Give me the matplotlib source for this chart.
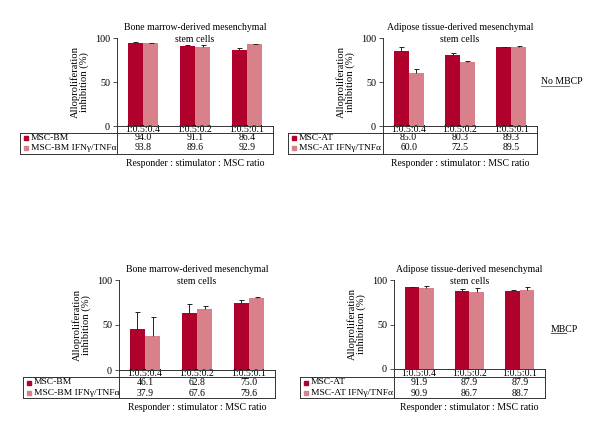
import matplotlib

matplotlib.use("Agg")

import matplotlib.pyplot as plt
import numpy as np
from matplotlib.lines import Line2D
from matplotlib.transforms import blended_transform_factory

plt.rcParams["font.family"] = ["Liberation Serif", "DejaVu Serif"]

W, H = 600, 433
DARK = "#B0002C"
LIGHT = "#D9818A"

ratios = ["1:0.5:0.4", "1:0.5:0.2", "1:0.5:0.1"]

# No MBCP
bm_vals = [94.0, 91.1, 86.4]
bm_err = [2.0, 1.0, 2.0]
bm_ifn_vals = [93.8, 89.6, 92.9]
bm_ifn_err = [0.8, 3.0, 0.8]

at_vals = [85.0, 80.3, 89.3]
at_err = [4.5, 2.5, 0.5]
at_ifn_vals = [60.0, 72.5, 89.5]
at_ifn_err = [4.5, 1.0, 1.0]

# MBCP
bm_mbcp_vals = [46.1, 62.8, 75.0]
bm_mbcp_err = [18.5, 10.0, 3.0]
bm_ifn_mbcp_vals = [37.9, 67.6, 79.6]
bm_ifn_mbcp_err = [20.5, 3.0, 2.0]

at_mbcp_vals = [91.9, 87.9, 87.9]
at_mbcp_err = [0.6, 2.0, 1.2]
at_ifn_mbcp_vals = [90.9, 86.7, 88.7]
at_ifn_mbcp_err = [2.5, 4.0, 3.0]

BM_TITLE = "Bone marrow-derived mesenchymal\nstem cells"
AT_TITLE = "Adipose tissue-derived mesenchymal\nstem cells"
YLABEL = "Alloproliferation\ninhibition (%)"
XLABEL = "Responder : stimulator : MSC ratio"

FS = 7


def fx(x):
    return x / W


def fy(y):
    return 1 - y / H


def hline(fig, x0, x1, y, color="#333333"):
    fig.add_artist(Line2D([fx(x0), fx(x1)], [fy(y), fy(y)], color=color, lw=0.7))


def vline(fig, x, y0, y1):
    fig.add_artist(Line2D([fx(x), fx(x)], [fy(y0), fy(y1)], color="#333333", lw=0.7))


def draw_panel(fig, box, table, title, names, v1, e1, v2, e2):
    # box: axes left, right, top, bottom in pixels
    left, right, top, bottom = box
    ax = fig.add_axes([fx(left), fy(bottom), (right - left) / W, (bottom - top) / H])
    x = np.arange(len(ratios))
    w = 0.29
    ax.bar(x - w / 2, v1, w, color=DARK, zorder=2)
    ax.bar(x + w / 2, v2, w, color=LIGHT, zorder=2)
    for xs, vals, errs in [(x - w / 2, v1, e1), (x + w / 2, v2, e2)]:
        eb = ax.errorbar(xs, vals, yerr=[np.zeros(len(errs)), errs], fmt="none",
                         ecolor="#222222", elinewidth=0.7, capsize=1.8, capthick=0.7, zorder=3)
        eb[1][0].set_visible(False)
    ax.set_xlim(-0.5, 2.5)
    ax.set_ylim(0, 100)
    ax.set_yticks([0, 50, 100])
    ax.tick_params(axis="y", length=3, width=0.6, labelsize=FS + 0.3, pad=2, color="#333333")
    ax.set_xticks([])
    for s in ["top", "right", "bottom"]:
        ax.spines[s].set_visible(False)
    ax.spines["left"].set_linewidth(0.7)
    ax.spines["left"].set_color("#333333")
    ax.set_ylabel(YLABEL, fontsize=FS + 0.6, labelpad=4, linespacing=1.0)
    ax.set_title(title, fontsize=FS, y=1.0, pad=-3, linespacing=1.45)

    # table under the axes
    tleft, hdr_y, line_y, r1_y, r2_y, tbot = table
    tr = blended_transform_factory(ax.transData, fig.transFigure)
    hline(fig, left, right, bottom)
    hline(fig, tleft, right, line_y)
    hline(fig, tleft, right, tbot)
    vline(fig, tleft, line_y, tbot)
    vline(fig, left, bottom, tbot)
    vline(fig, right, bottom, tbot)
    for i, r in enumerate(ratios):
        ax.text(x[i], fy(hdr_y), r, transform=tr, ha="center", va="center", fontsize=FS)
        ax.text(x[i], fy(r1_y), f"{v1[i]:.1f}", transform=tr, ha="center", va="center", fontsize=FS)
        ax.text(x[i], fy(r2_y), f"{v2[i]:.1f}", transform=tr, ha="center", va="center", fontsize=FS)
    for name, yy, c in [(names[0], r1_y, DARK), (names[1], r2_y, LIGHT)]:
        fig.add_artist(Line2D([fx(tleft + 6)], [fy(yy)], marker="s", ms=3, color=c, lw=0))
        fig.text(fx(tleft + 11), fy(yy), name, ha="left", va="center", fontsize=FS - 0.2)
    fig.text(fx((left + right) / 2), fy(tbot + 9), XLABEL, ha="center", va="center", fontsize=FS)
    return ax


fig = plt.figure(figsize=(W / 100, H / 100), dpi=100)

draw_panel(fig, (117, 273, 38, 126), (20, 130, 133, 138, 147.5, 154), BM_TITLE,
           ["MSC-BM", "MSC-BM IFNγ/TNFα"], bm_vals, bm_err, bm_ifn_vals, bm_ifn_err)
draw_panel(fig, (383, 537, 38, 126), (288, 130, 133, 138, 147.5, 154), AT_TITLE,
           ["MSC-AT", "MSC-AT IFNγ/TNFα"], at_vals, at_err, at_ifn_vals, at_ifn_err)
draw_panel(fig, (119, 275, 280, 370), (23, 374, 377, 382.5, 393, 398), BM_TITLE,
           ["MSC-BM", "MSC-BM IFNγ/TNFα"], bm_mbcp_vals, bm_mbcp_err,
           bm_ifn_mbcp_vals, bm_ifn_mbcp_err)
draw_panel(fig, (394, 545, 280, 369), (300, 374, 377, 382.5, 393, 398), AT_TITLE,
           ["MSC-AT", "MSC-AT IFNγ/TNFα"], at_mbcp_vals, at_mbcp_err,
           at_ifn_mbcp_vals, at_ifn_mbcp_err)

fig.text(fx(541), fy(82), "No MBCP", ha="left", va="center", fontsize=FS)
hline(fig, 541, 569, 86, color="#777777")
fig.text(fx(551), fy(329), "MBCP", ha="left", va="center", fontsize=FS)
hline(fig, 551, 566, 333, color="#555555")

fig.savefig("out.png", dpi=100, facecolor="white")
